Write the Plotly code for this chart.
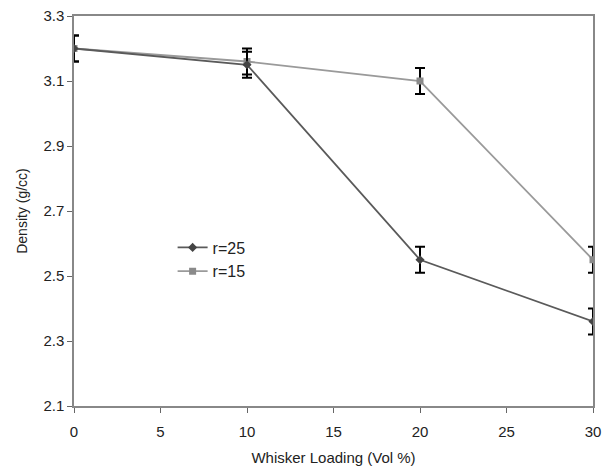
import plotly.graph_objects as go

x_vals = [0, 10, 20, 30]
r25 = [3.20, 3.15, 2.55, 2.36]
r15 = [3.20, 3.16, 3.10, 2.55]
r25_err = [0.04, 0.04, 0.04, 0.04]
r15_err = [0.04, 0.04, 0.04, 0.04]
x_ticks = [0, 5, 10, 15, 20, 25, 30]
y_ticks = [2.1, 2.3, 2.5, 2.7, 2.9, 3.1, 3.3]

fig = go.Figure()
fig.add_trace(go.Scatter(
    x=x_vals, y=r15, name="r=15", mode="lines+markers",
    line=dict(color="#9a9a9a", width=1.8),
    marker=dict(symbol="square", size=7, color="#8a8a8a"),
    error_y=dict(type="data", array=r15_err, color="black", thickness=2, width=5),
))
fig.add_trace(go.Scatter(
    x=x_vals, y=r25, name="r=25", mode="lines+markers",
    line=dict(color="#5a5a5a", width=1.8),
    marker=dict(symbol="diamond", size=7, color="#444444"),
    error_y=dict(type="data", array=r25_err, color="black", thickness=2, width=5),
))

fig.update_layout(
    width=605, height=471,
    margin=dict(l=74, r=12, t=16, b=65, autoexpand=False),
    paper_bgcolor="white", plot_bgcolor="white",
    font=dict(family="Liberation Sans, Arial, sans-serif", size=15, color="#222"),
    showlegend=True,
    legend=dict(x=0.19, y=0.45, xanchor="left", yanchor="top",
                bgcolor="rgba(0,0,0,0)", traceorder="reversed",
                font=dict(size=16), itemwidth=30, tracegroupgap=0),
    xaxis=dict(
        range=[0, 30], tickvals=x_ticks, ticks="outside", ticklen=5,
        tickcolor="#666", showline=True, linecolor="#888", linewidth=1.5,
        mirror=True, showgrid=False, zeroline=False, automargin=False,
        ticklabelstandoff=6,
        title=dict(text="Whisker Loading (Vol %)", font=dict(size=15), standoff=14),
    ),
    yaxis=dict(
        range=[2.1, 3.3], tickvals=y_ticks, tickformat=".1f", ticks="outside",
        ticklen=5, tickcolor="#666", showline=True, linecolor="#888",
        linewidth=1.5, mirror=True, showgrid=False, zeroline=False, automargin=False,
        title=dict(text="Density (g/cc)", font=dict(size=14), standoff=12),
    ),
)

fig.write_html("out.html")
